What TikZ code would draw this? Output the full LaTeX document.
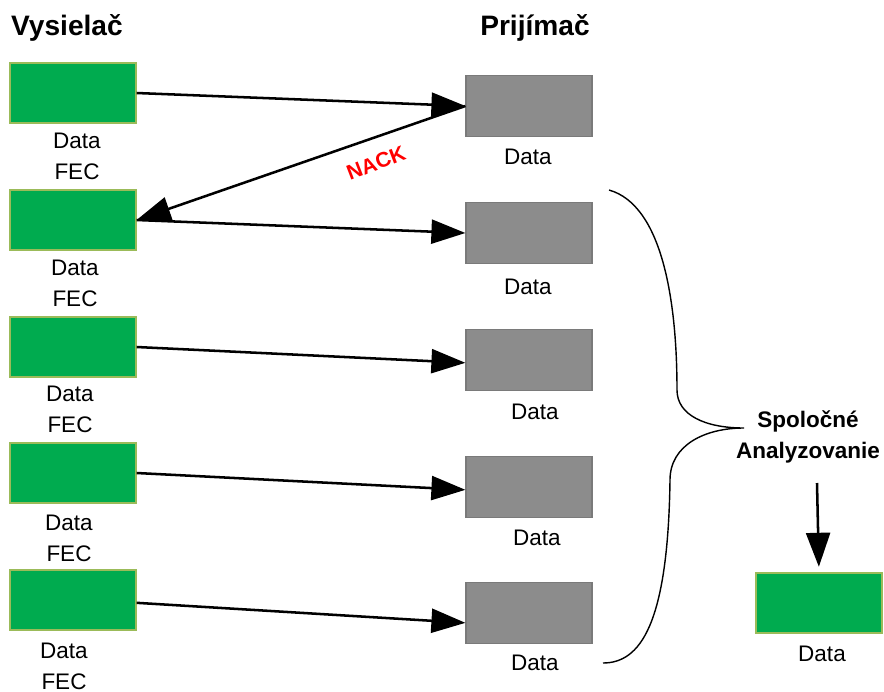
\documentclass[tikz,border=0pt]{standalone}
\usepackage{fontspec}
\setmainfont{Liberation Sans}
\usepackage{xcolor}
\usepackage{tikz}
\usetikzlibrary{positioning}
\usetikzlibrary{arrows.meta}

\definecolor{sendgreen}{HTML}{00AB4F}
\definecolor{sendedge}{HTML}{9BBB59}
\definecolor{recvgray}{HTML}{8C8C8C}
\definecolor{recvedge}{HTML}{7A7A7A}

\tikzset{
    sendbox/.style={draw=sendedge, fill=sendgreen, line width=0.8pt, rectangle, minimum width=3.15cm, minimum height=1.5cm, inner sep=0pt},
    recvbox/.style={draw=recvedge, fill=recvgray, line width=0.8pt, rectangle, minimum width=3.15cm, minimum height=1.52cm, inner sep=0pt},
    lbl/.style={font=\fontsize{16pt}{22pt}\selectfont, align=center, inner sep=0pt},
    head/.style={font=\fontsize{20pt}{24pt}\selectfont\bfseries, inner sep=0pt},
    msg/.style={-{Triangle[length=0.85cm,width=0.6cm]}, line width=1.8pt},
}

\begin{document}
\begin{tikzpicture}[x=0.025cm, y=0.025cm]
    \useasboundingbox (0,0) rectangle (884,-692);

    % Headers
    \node[head] (tx) at (67,-28) {Vysielač};
    \node[head] (rx) at (535,-28) {Prijímač};

    % Sender nodes
    \node[sendbox] (g1) at (73,-93) {};
    \node[sendbox] (g2) at (73,-220) {};
    \node[sendbox] (g3) at (73,-347) {};
    \node[sendbox] (g4) at (73,-473) {};
    \node[sendbox] (g5) at (73,-600) {};
    \node[lbl] (s1) at (77,-156) {Data\\FEC};
    \node[lbl] (s2) at (75,-283) {Data\\FEC};
    \node[lbl] (s3) at (70,-409) {Data\\FEC};
    \node[lbl] (s4) at (69,-538) {Data\\FEC};
    \node[lbl] (s5) at (64,-666) {Data\\FEC};

    % Receiver nodes
    \node[recvbox] (r1) at (529,-106) {};
    \node[recvbox] (r2) at (529,-233) {};
    \node[recvbox] (r3) at (529,-360) {};
    \node[recvbox] (r4) at (529,-487) {};
    \node[recvbox] (r5) at (529,-613) {};
    \node[lbl] (q1) at (528,-157) {Data};
    \node[lbl] (q2) at (528,-287) {Data};
    \node[lbl] (q3) at (535,-412) {Data};
    \node[lbl] (q4) at (537,-538) {Data};
    \node[lbl] (q5) at (535,-663) {Data};

    % Joint analysis
    \node[lbl, font=\fontsize{16pt}{22pt}\selectfont\bfseries] (an) at (808,-437) {Spoločné\\Analyzovanie};
    \coordinate (anb) at (817,-483);
    \node[sendbox] (gf) at (819,-603) {};
    \node[lbl] (qf) at (822,-654) {Data};

    % Brace
    \coordinate (bt) at (609,-190);
    \coordinate (bm) at (744,-428);
    \coordinate (bb) at (603,-663);
    \draw[line width=1pt] (bt) .. controls (662,-205) and (677,-300) .. (677,-390)
        .. controls (677,-415) and (705,-428) .. (bm)
        .. controls (705,-428) and (670,-445) .. (670,-480)
        .. controls (668,-625) and (640,-663) .. (bb);

    % Edges
    \draw[msg] (g1.east) -- (r1.west);
    \draw[msg] (r1.west) -- (g2.east);
    \draw[msg] (g2.east) -- (r2.west);
    \draw[msg] (g3.east) -- ([yshift=-2pt]r3.west);
    \draw[msg] (g4.east) -- ([yshift=-2pt]r4.west);
    \draw[msg] ([yshift=-2pt]g5.east) -- ([yshift=-7pt]r5.west);
    \draw[msg, shorten >=4pt] (anb) -- (gf.north);

    \node[font=\fontsize{15pt}{17pt}\selectfont\bfseries, text=red, rotate=21, inner sep=0pt] (nack) at (376,-163) {NACK};
\end{tikzpicture}
\end{document}
